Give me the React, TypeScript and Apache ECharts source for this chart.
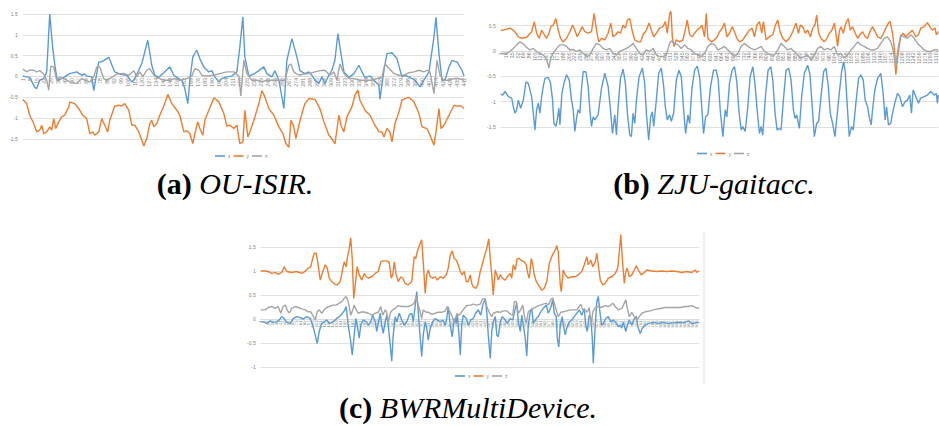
import React, { useEffect, useRef } from 'react';
import * as echarts from 'echarts';

// ---------- (a) OU-ISIR : [sample, value] ----------
const nA = 442;
const aX = [[1,0.01],[8,-0.02],[13,-0.26],[15,-0.29],[18,-0.09],[22,-0.05],[25,0.11],[28,1.5],[31,0.68],[33,0.3],[35,-0.02],[37,-0.09],[42,-0.02],[48,0.07],[55,0.11],[60,0.03],[63,0.06],[65,0.01],[70,-0.01],[72,-0.34],[77,0.35],[80,0.35],[87,0.46],[93,0.11],[98,0.06],[105,0.03],[110,-0.13],[112,-0.09],[117,0.15],[120,0.31],[126,0.87],[130,0.27],[133,0.03],[137,-0.02],[142,0.09],[148,0.23],[152,0.03],[155,-0.02],[160,-0.09],[163,-0.29],[166,-0.65],[168,-0.09],[171,0.47],[175,0.63],[178,0.43],[182,0.23],[187,0.11],[190,0.14],[193,-0.01],[197,-0.13],[200,-0.05],[205,-0.01],[210,0.01],[215,0.11],[218,0.71],[221,1.43],[223,0.47],[227,0.01],[232,0.06],[237,0.14],[242,0.23],[245,0.07],[250,-0.01],[253,0.14],[257,-0.09],[260,-0.49],[262,-0.77],[265,0.39],[270,0.91],[275,0.47],[278,0.14],[283,0.07],[287,0.11],[290,0.03],[293,-0.09],[297,-0.17],[300,-0.01],[303,-0.17],[307,0.03],[310,0.15],[313,0.39],[316,1.03],[318,0.71],[322,0.11],[327,-0.02],[332,0.07],[337,0.27],[340,0.11],[343,-0.02],[348,0.01],[352,-0.09],[357,-0.21],[358,-0.55],[362,0.15],[365,0.55],[370,0.57],[375,0.43],[380,-0.01],[383,0.03],[388,-0.02],[393,-0.09],[398,-0.25],[402,-0.09],[407,0.11],[412,0.95],[414,1.42],[417,0.55],[420,-0.09],[423,-0.09],[427,0.23],[430,0.38],[435,0.35],[440,0.15],[442,0.01]];
const aY = [[1,-0.55],[5,-0.65],[8,-0.93],[12,-1.13],[15,-1.33],[18,-1.29],[20,-1.17],[22,-1.37],[25,-1.33],[28,-1.21],[30,-1.29],[32,-1.01],[34,-1.25],[37,-1.09],[40,-0.97],[43,-0.93],[47,-0.73],[48,-0.61],[53,-0.65],[57,-0.77],[61,-0.93],[65,-1.01],[68,-1.37],[71,-1.33],[73,-1.41],[77,-1.33],[80,-1.01],[83,-1.17],[86,-1.33],[88,-1.05],[93,-0.71],[97,-0.69],[100,-0.71],[103,-0.65],[107,-0.81],[110,-1.17],[113,-1.17],[117,-1.33],[120,-1.53],[122,-1.67],[125,-1.49],[128,-1.13],[130,-1.05],[132,-1.21],[135,-1.13],[138,-0.93],[143,-0.65],[146,-0.43],[150,-0.65],[155,-0.81],[158,-0.93],[162,-1.33],[165,-1.3],[168,-1.37],[171,-1.61],[173,-1.37],[176,-1.09],[178,-1.25],[181,-1.41],[183,-1.05],[187,-0.81],[192,-0.51],[197,-0.61],[202,-0.89],[205,-1.19],[208,-1.17],[212,-1.25],[215,-1.17],[218,-1.61],[221,-1.57],[223,-0.81],[226,-1.45],[228,-1.33],[232,-1.05],[237,-0.65],[240,-0.34],[243,-0.49],[247,-0.77],[252,-0.93],[257,-1.21],[261,-1.37],[264,-1.61],[267,-1.7],[269,-1.05],[272,-1.21],[274,-1.49],[277,-1.17],[280,-0.89],[283,-0.65],[287,-0.53],[293,-0.55],[298,-0.77],[302,-1.09],[307,-1.41],[311,-1.53],[313,-1.62],[317,-0.93],[319,-1.17],[322,-1.33],[325,-0.97],[330,-0.73],[333,-0.45],[336,-0.33],[338,-0.57],[343,-0.81],[348,-0.93],[353,-1.17],[357,-1.33],[360,-1.33],[362,-1.45],[365,-1.25],[368,-1.33],[370,-1.57],[373,-1.13],[377,-0.85],[380,-0.57],[383,-0.53],[387,-0.5],[392,-0.61],[397,-0.89],[400,-1.21],[405,-1.25],[408,-1.41],[412,-1.65],[414,-1.33],[417,-0.77],[419,-1.25],[422,-1.17],[427,-0.93],[432,-0.69],[435,-0.71],[439,-0.71],[442,-0.77]];
const aZ = [[1,0.18],[5,0.11],[8,0.15],[12,0.15],[15,0.11],[18,0.14],[22,0.06],[25,-0.09],[27,-0.33],[29,0.25],[32,0.23],[35,-0.09],[38,-0.02],[42,-0.05],[45,-0.09],[48,-0.13],[55,-0.17],[60,-0.05],[63,-0.09],[68,-0.13],[72,-0.01],[75,0.23],[78,0.23],[82,-0.05],[85,-0.09],[88,-0.05],[95,0.06],[102,0.07],[107,0.03],[112,0.14],[115,-0.01],[118,0.11],[121,-0.01],[125,0.15],[128,0.19],[132,0.03],[135,-0.02],[142,-0.09],[148,-0.09],[153,-0.05],[158,-0.09],[165,-0.05],[170,0.01],[173,0.19],[177,0.15],[180,0.03],[185,0.01],[192,0.03],[198,0.07],[205,0.11],[212,0.11],[217,0.01],[219,-0.47],[222,0.39],[225,0.07],[230,-0.09],[235,-0.09],[240,-0.13],[245,-0.09],[252,-0.09],[258,-0.09],[263,-0.09],[267,0.27],[269,0.3],[272,0.11],[277,0.03],[282,0.06],[287,0.07],[293,0.11],[298,0.14],[303,0.15],[308,0.03],[312,0.11],[315,-0.09],[318,0.3],[322,0.07],[327,-0.05],[332,-0.05],[338,-0.09],[345,-0.09],[350,-0.09],[355,-0.05],[360,-0.01],[363,0.3],[367,0.19],[372,0.07],[377,0.03],[382,0.03],[387,0.09],[392,0.11],[397,0.15],[402,0.11],[405,0.15],[408,0.11],[412,-0.41],[415,0.39],[418,0.03],[422,-0.09],[427,-0.09],[432,-0.05],[437,-0.05],[442,-0.09]];

// ---------- (b) ZJU-gaitacc ----------
const nB = 1318;
const bX = [[1,-0.85],[7,-0.87],[14,-0.8],[24,-0.9],[34,-0.93],[39,-1.1],[44,-1.23],[49,-1.16],[54,-0.97],[61,-1.13],[69,-0.97],[77,-0.61],[84,-0.64],[94,-0.9],[99,-1.23],[104,-1.56],[109,-1.16],[114,-1.03],[119,-1.23],[124,-0.9],[129,-0.7],[134,-0.54],[144,-0.52],[151,-0.64],[157,-0.97],[161,-1.43],[167,-1.49],[171,-1.36],[176,-1.13],[179,-1.46],[185,-0.84],[191,-0.64],[199,-0.47],[207,-0.57],[214,-0.97],[219,-1.16],[224,-1.59],[229,-1.33],[234,-1.16],[239,-1.23],[244,-0.74],[249,-0.41],[257,-0.41],[264,-0.7],[269,-1.16],[274,-1.49],[279,-1.3],[284,-1.36],[294,-1.26],[304,-0.74],[314,-0.44],[324,-0.7],[331,-1.16],[337,-1.63],[344,-1.26],[349,-1.66],[354,-1.1],[361,-0.54],[369,-0.36],[376,-0.64],[382,-1.23],[389,-1.66],[394,-1.69],[399,-1.23],[404,-1.43],[409,-0.97],[417,-0.51],[427,-0.34],[434,-0.64],[439,-1.23],[446,-1.76],[452,-1.3],[457,-1.2],[461,-1.49],[469,-0.97],[476,-0.44],[484,-0.34],[491,-0.7],[496,-1.1],[502,-1.36],[509,-1.26],[514,-1.39],[521,-1.23],[529,-0.57],[537,-0.38],[544,-0.51],[551,-1.16],[557,-1.63],[564,-1.26],[569,-1.43],[576,-0.74],[584,-0.38],[592,-0.3],[599,-0.51],[606,-1.16],[611,-1.63],[617,-1.3],[624,-1.26],[632,-0.7],[641,-0.38],[649,-0.38],[655,-0.57],[661,-1.16],[669,-1.69],[676,-1.16],[681,-1.3],[689,-0.64],[697,-0.38],[704,-0.31],[711,-0.61],[717,-1.16],[724,-1.56],[729,-1.49],[736,-1.59],[744,-1.1],[751,-0.51],[759,-0.31],[765,-0.61],[772,-1.16],[779,-1.63],[784,-1.49],[789,-1.66],[797,-0.9],[805,-0.38],[813,-0.31],[819,-0.57],[826,-1.23],[832,-1.56],[837,-1.53],[844,-1.56],[851,-0.97],[859,-0.38],[867,-0.34],[874,-0.57],[881,-1.16],[886,-1.33],[891,-1.26],[899,-1.53],[906,-0.9],[914,-0.44],[924,-0.28],[931,-0.47],[937,-1.03],[944,-1.69],[951,-1.43],[957,-1.39],[964,-0.9],[972,-0.41],[979,-0.34],[986,-0.7],[992,-1.23],[999,-1.43],[1006,-1.69],[1012,-1.3],[1019,-0.84],[1026,-0.41],[1032,-0.21],[1037,-0.41],[1042,-0.97],[1049,-1.69],[1056,-1.49],[1061,-1.56],[1069,-1.03],[1077,-0.54],[1084,-0.47],[1091,-0.57],[1097,-0.97],[1104,-1.1],[1109,-1.3],[1115,-1.46],[1119,-1.16],[1126,-0.77],[1134,-0.54],[1144,-0.44],[1151,-0.84],[1157,-1.36],[1161,-1.1],[1167,-1.46],[1174,-1.43],[1179,-1.23],[1186,-1.03],[1194,-0.84],[1201,-0.9],[1209,-1.1],[1217,-1.0],[1224,-0.97],[1231,-0.87],[1236,-1.23],[1241,-0.77],[1249,-0.9],[1257,-1.03],[1264,-0.93],[1274,-0.9],[1284,-0.87],[1294,-0.8],[1304,-0.87],[1311,-0.84],[1314,-1.03],[1317,-0.87]];
const bY = [[1,0.41],[7,0.41],[19,0.43],[29,0.45],[39,0.41],[47,0.35],[54,0.28],[64,0.25],[79,0.27],[94,0.38],[102,0.58],[109,0.35],[117,0.25],[124,0.41],[132,0.32],[139,0.25],[146,0.35],[152,0.48],[159,0.51],[167,0.64],[174,0.41],[181,0.25],[189,0.18],[199,0.25],[209,0.38],[217,0.51],[224,0.41],[231,0.28],[239,0.38],[246,0.48],[254,0.38],[264,0.35],[274,0.38],[282,0.74],[289,0.41],[296,0.18],[304,0.25],[314,0.22],[324,0.35],[332,0.55],[339,0.28],[347,0.32],[354,0.38],[361,0.35],[369,0.51],[376,0.45],[382,0.61],[389,0.64],[397,0.38],[404,0.22],[414,0.18],[422,0.18],[429,0.32],[439,0.41],[447,0.55],[454,0.41],[461,0.28],[469,0.35],[479,0.45],[489,0.48],[496,0.58],[502,0.35],[509,0.74],[513,0.78],[517,0.28],[522,0.09],[529,0.22],[539,0.18],[549,0.22],[557,0.45],[562,0.61],[569,0.32],[577,0.28],[584,0.35],[591,0.41],[599,0.45],[606,0.51],[614,0.28],[619,0.74],[624,0.25],[634,0.18],[644,0.22],[652,0.28],[659,0.38],[667,0.45],[674,0.55],[681,0.28],[689,0.35],[697,0.48],[704,0.38],[711,0.25],[719,0.18],[729,0.22],[739,0.32],[749,0.41],[757,0.45],[764,0.28],[771,0.51],[779,0.58],[786,0.35],[791,0.58],[799,0.22],[809,0.28],[819,0.32],[827,0.51],[834,0.61],[841,0.38],[849,0.25],[859,0.18],[869,0.25],[879,0.38],[889,0.55],[896,0.35],[902,0.51],[909,0.48],[917,0.35],[924,0.41],[932,0.28],[939,0.45],[946,0.51],[951,0.71],[957,0.35],[964,0.25],[974,0.18],[982,0.25],[989,0.35],[997,0.41],[1004,0.55],[1009,0.35],[1014,0.09],[1019,0.38],[1024,0.48],[1031,0.35],[1039,0.55],[1046,0.64],[1052,0.41],[1059,0.48],[1067,0.35],[1074,0.25],[1081,0.32],[1089,0.38],[1097,0.28],[1104,0.25],[1111,0.38],[1119,0.48],[1127,0.38],[1134,0.28],[1144,0.25],[1152,0.35],[1159,0.45],[1167,0.55],[1172,0.58],[1179,0.35],[1184,0.09],[1189,-0.47],[1194,-0.14],[1199,0.09],[1204,0.28],[1211,0.35],[1219,0.28],[1229,0.35],[1239,0.41],[1249,0.28],[1257,0.32],[1264,0.45],[1274,0.48],[1284,0.56],[1291,0.48],[1299,0.41],[1307,0.45],[1311,0.32],[1317,0.38]];
const bZ = [[1,-0.05],[7,-0.05],[19,-0.05],[29,-0.01],[39,0.05],[49,0.12],[59,0.18],[69,0.14],[79,0.07],[89,0.02],[99,0.05],[109,-0.01],[119,-0.05],[129,-0.08],[139,-0.16],[146,-0.34],[151,-0.14],[159,-0.05],[169,0.05],[179,0.12],[189,0.12],[199,0.09],[209,0.02],[219,0.03],[229,-0.01],[239,0.02],[249,-0.05],[259,-0.11],[269,-0.08],[279,0.05],[289,0.15],[299,0.12],[309,0.05],[319,0.02],[329,0.05],[339,-0.05],[349,-0.08],[359,-0.01],[369,0.02],[379,0.05],[389,0.09],[399,0.15],[409,0.05],[419,-0.05],[429,-0.08],[439,0.02],[449,-0.01],[459,0.05],[469,-0.08],[479,-0.11],[489,-0.11],[499,-0.08],[509,0.15],[514,0.2],[524,0.15],[534,0.12],[544,0.05],[554,0.12],[564,0.05],[574,0.02],[584,-0.05],[594,-0.08],[604,-0.11],[614,-0.05],[624,0.09],[634,0.15],[644,0.12],[654,0.02],[664,0.05],[674,0.09],[684,0.02],[694,-0.05],[704,-0.11],[714,-0.05],[724,0.09],[734,0.15],[744,0.09],[754,0.05],[764,0.02],[774,0.05],[784,0.09],[794,-0.01],[804,-0.05],[814,-0.08],[824,-0.08],[834,0.02],[844,0.15],[854,0.09],[864,0.02],[874,0.05],[884,-0.01],[894,-0.08],[904,-0.14],[914,-0.11],[924,-0.08],[934,-0.18],[944,-0.08],[954,0.05],[964,0.09],[974,0.02],[984,0.05],[994,0.02],[1004,0.09],[1014,-0.08],[1024,-0.05],[1034,-0.14],[1044,-0.08],[1054,0.02],[1064,0.09],[1074,0.18],[1084,0.12],[1094,0.09],[1104,0.05],[1114,0.02],[1124,0.02],[1134,0.05],[1144,0.15],[1154,0.25],[1164,0.28],[1174,0.18],[1181,0.02],[1189,-0.31],[1197,0.09],[1204,0.32],[1214,0.28],[1224,0.25],[1234,0.32],[1244,0.25],[1254,0.15],[1264,0.09],[1274,0.02],[1284,-0.01],[1294,-0.01],[1304,0.02],[1311,0.03],[1317,-0.01]];

// ---------- (c) BWRMultiDevice ----------
const nC = 878;
const cX = [[1,-0.06],[6,-0.06],[13,-0.09],[20,-0.04],[26,-0.07],[33,-0.06],[38,-0.02],[43,0.05],[48,0.01],[53,-0.07],[60,-0.09],[66,0.01],[73,0.05],[80,0.03],[86,0.0],[93,0.05],[100,0.01],[105,-0.13],[110,-0.33],[114,-0.51],[118,-0.26],[123,-0.09],[128,-0.06],[133,-0.02],[138,-0.09],[143,-0.07],[148,-0.04],[153,0.01],[158,0.05],[163,0.1],[168,0.17],[172,0.26],[176,-0.13],[181,-0.47],[184,-0.75],[188,-0.33],[191,0.01],[194,-0.13],[198,-0.4],[201,-0.13],[206,-0.02],[212,-0.06],[216,-0.13],[221,-0.06],[225,0.08],[230,-0.06],[233,-0.26],[236,-0.09],[240,0.12],[243,-0.13],[246,-0.3],[250,-0.06],[253,0.08],[256,-0.13],[260,-0.54],[263,-0.88],[266,-0.33],[270,0.05],[273,-0.06],[278,0.12],[283,-0.02],[288,-0.13],[293,-0.06],[298,0.08],[303,0.12],[306,-0.06],[310,0.29],[313,0.57],[316,0.15],[320,-0.4],[323,-0.78],[326,-0.33],[330,-0.06],[333,-0.19],[336,-0.44],[340,-0.19],[345,-0.06],[350,0.01],[354,-0.02],[360,-0.06],[365,-0.02],[370,-0.13],[373,0.01],[376,0.26],[380,-0.13],[384,-0.37],[388,0.01],[392,-0.09],[394,0.12],[397,-0.26],[400,-0.75],[403,-0.13],[406,0.08],[412,0.01],[416,-0.13],[421,-0.02],[426,0.01],[431,0.12],[436,0.19],[441,0.08],[445,0.29],[450,0.42],[453,0.15],[456,-0.33],[460,-0.82],[463,-0.26],[466,-0.06],[470,0.05],[473,-0.33],[476,-0.37],[480,-0.06],[484,0.05],[490,-0.02],[494,-0.09],[500,0.01],[505,-0.02],[510,0.22],[513,0.33],[516,-0.06],[520,-0.26],[523,0.08],[526,-0.13],[530,-0.4],[533,-0.77],[536,-0.13],[540,0.15],[543,0.22],[546,-0.09],[552,0.01],[556,0.05],[561,0.15],[566,0.22],[572,0.29],[576,0.12],[581,0.24],[585,0.4],[588,0.12],[592,0.05],[594,-0.4],[597,-0.58],[600,-0.13],[604,0.05],[606,-0.13],[610,-0.33],[613,-0.19],[618,-0.06],[623,-0.02],[628,0.05],[633,0.12],[638,0.19],[643,0.08],[648,0.22],[651,-0.13],[654,-0.26],[658,0.08],[661,0.01],[664,-0.4],[666,-0.92],[670,-0.13],[673,0.36],[676,0.47],[680,0.08],[683,-0.13],[686,-0.09],[691,0.01],[696,0.05],[701,-0.06],[706,-0.02],[712,-0.09],[716,-0.16],[720,-0.13],[723,-0.19],[726,-0.06],[731,-0.26],[734,-0.13],[738,-0.02],[743,-0.13],[748,0.01],[752,0.05],[755,-0.16],[760,-0.3],[764,-0.19],[770,-0.13],[776,-0.09],[786,-0.07],[796,-0.09],[806,-0.07],[816,-0.09],[826,-0.08],[836,-0.07],[846,-0.08],[856,-0.04],[863,-0.09],[870,-0.08],[878,-0.07]];
const cY = [[1,1.0],[10,1.0],[16,0.99],[23,0.95],[30,0.97],[36,0.93],[43,0.97],[48,1.09],[53,0.99],[63,0.97],[73,0.99],[83,0.95],[90,0.99],[96,1.06],[101,1.09],[105,1.26],[108,1.37],[112,1.37],[115,1.19],[120,0.81],[124,0.95],[130,1.13],[134,1.06],[138,0.85],[143,0.78],[150,0.72],[154,0.71],[160,0.78],[164,0.99],[168,1.19],[172,1.09],[174,1.26],[178,1.47],[181,1.69],[184,1.26],[187,0.43],[190,0.71],[194,1.09],[198,0.92],[203,0.81],[208,0.95],[212,0.88],[216,0.85],[223,0.88],[230,0.95],[236,0.99],[241,1.19],[245,1.21],[253,1.21],[258,1.18],[262,0.85],[265,0.92],[268,1.19],[272,0.92],[276,0.78],[281,0.88],[285,0.85],[290,0.74],[296,0.71],[303,0.78],[308,1.3],[311,1.26],[314,1.4],[320,1.58],[323,1.65],[326,1.19],[330,0.53],[333,0.92],[336,1.02],[340,0.88],[345,0.85],[350,0.88],[354,0.81],[360,0.88],[366,0.85],[372,0.92],[376,1.06],[380,1.33],[384,1.42],[388,1.26],[392,1.23],[396,1.13],[400,0.99],[404,0.92],[408,0.99],[412,0.78],[416,0.78],[420,0.92],[423,0.74],[426,0.67],[431,0.64],[435,0.71],[440,0.99],[444,1.13],[448,1.3],[453,1.47],[457,1.67],[460,1.26],[463,0.92],[466,0.5],[470,1.02],[473,0.92],[476,0.81],[480,0.92],[484,0.85],[490,0.81],[494,0.88],[500,0.95],[503,0.85],[506,1.13],[510,1.02],[514,1.26],[518,1.26],[523,1.21],[528,1.19],[532,1.13],[535,0.95],[538,0.85],[542,1.26],[545,1.13],[548,0.92],[552,0.78],[556,0.71],[563,0.6],[568,0.64],[573,0.78],[578,1.16],[583,1.3],[586,1.37],[590,1.44],[593,1.53],[596,1.4],[600,0.71],[602,0.57],[606,1.02],[610,0.92],[616,0.85],[623,0.88],[630,0.88],[636,0.92],[643,0.99],[648,1.13],[653,1.3],[656,1.13],[661,1.23],[665,1.09],[670,1.19],[673,1.37],[676,1.13],[680,0.81],[685,0.71],[690,0.74],[696,0.85],[703,0.88],[710,0.95],[715,1.06],[718,1.4],[721,1.76],[724,1.26],[728,0.74],[731,0.99],[734,1.06],[738,0.88],[743,0.92],[748,1.02],[752,1.11],[756,1.02],[762,0.92],[766,0.95],[773,1.02],[783,1.0],[793,0.99],[803,1.0],[813,0.99],[823,1.0],[833,0.99],[843,0.97],[853,0.99],[863,0.97],[870,1.02],[873,0.97],[878,1.0]];
const cZ = [[1,0.19],[10,0.19],[16,0.24],[23,0.26],[30,0.22],[36,0.26],[41,0.12],[46,0.26],[50,0.29],[54,0.19],[58,0.12],[63,0.22],[70,0.26],[76,0.24],[83,0.21],[90,0.19],[96,0.15],[101,0.15],[105,0.08],[110,-0.02],[114,0.15],[118,0.19],[123,0.12],[128,0.19],[133,0.24],[138,0.26],[145,0.29],[152,0.29],[158,0.33],[163,0.36],[168,0.43],[172,0.47],[176,0.36],[181,0.08],[185,0.19],[188,0.29],[192,0.19],[196,0.12],[203,0.15],[210,0.14],[216,0.12],[223,0.08],[230,0.12],[236,0.14],[241,0.26],[245,0.08],[250,0.19],[253,0.14],[256,-0.06],[261,0.15],[265,0.19],[270,0.22],[276,0.28],[283,0.26],[290,0.26],[296,0.26],[303,0.29],[308,0.33],[312,0.47],[315,0.33],[320,0.15],[323,0.01],[326,0.19],[332,0.14],[336,0.14],[343,0.1],[350,0.12],[356,0.14],[363,0.14],[370,0.17],[374,0.26],[380,0.14],[384,0.05],[388,-0.09],[393,0.1],[398,0.08],[403,0.15],[408,0.22],[413,0.28],[420,0.29],[426,0.31],[433,0.29],[440,0.31],[445,0.42],[450,0.42],[453,0.26],[458,0.14],[463,0.05],[466,0.12],[473,0.15],[480,0.14],[486,0.17],[493,0.17],[500,0.1],[505,0.08],[508,0.36],[512,0.36],[516,0.12],[521,0.19],[525,0.29],[528,0.08],[532,-0.09],[536,0.15],[541,0.19],[546,0.22],[553,0.26],[560,0.29],[566,0.31],[572,0.33],[576,0.29],[581,0.4],[585,0.44],[589,0.29],[593,0.15],[596,0.05],[601,0.14],[606,0.15],[613,0.17],[620,0.19],[626,0.19],[633,0.19],[638,0.26],[641,0.31],[645,0.19],[650,0.19],[654,0.14],[658,0.24],[662,-0.13],[665,0.15],[670,0.24],[676,0.26],[683,0.24],[690,0.28],[696,0.26],[701,0.29],[705,0.33],[710,0.26],[716,0.19],[723,0.22],[728,0.33],[731,0.4],[734,0.22],[738,0.05],[743,0.14],[748,0.05],[753,-0.02],[758,0.05],[763,0.12],[770,0.15],[780,0.17],[790,0.2],[800,0.22],[810,0.24],[820,0.24],[830,0.24],[840,0.24],[850,0.26],[856,0.26],[863,0.28],[870,0.24],[878,0.22]];

const seriesNames = ['x', 'y', 'z'];
const seriesColors = ['#5B9BD5', '#ED7D31', '#A5A5A5'];

const range = (n: number) => Array.from({ length: n }, (_, i) => String(i + 1));
const toData = (pts: number[][]) => pts.map(([s, v]) => [s - 1, v]);

const GRID = '#d9d9d9';
const LABEL = '#7f7f7f';

// panel geometry: left, top, width, height, y min, y max
const panels = [
  { left: 22.7, top: 14, width: 441.3, height: 145.8, min: -2, max: 1.5, hide: [-2], n: nA, every: 7, lf: 5.2 },
  { left: 500.7, top: 0.3, width: 438, height: 152, min: -2, max: 1, hide: [-2, 1], n: nB, every: 17, lf: 5.2 },
  { left: 260.7, top: 223, width: 438.6, height: 144, min: -1, max: 2, hide: [2], n: nC, every: 8, lf: 4.2 },
];

const isHidden = (hide: number[], v: number) => hide.some((h) => Math.abs(h - v) < 1e-9);

function makeY(idx: number, p: any) {
  const ticks: number[] = [];
  for (let v = p.min; v <= p.max + 1e-9; v += 0.5) ticks.push(v);
  return {
    type: 'value', gridIndex: idx, min: p.min, max: p.max, interval: 0.5,
    axisLine: { show: false }, axisTick: { show: false },
    axisLabel: {
      fontSize: 5, color: LABEL, margin: 5, fontFamily: 'Liberation Sans',
      formatter: (v: number) => (isHidden(p.hide, v) ? '' : String(v)),
    },
    splitLine: {
      lineStyle: {
        width: 0.8,
        color: ticks.map((t) => (isHidden(p.hide, t) ? 'rgba(0,0,0,0)' : GRID)),
      },
    },
  };
}

// main x axis (no labels) for the data
function makeX(idx: number, p: any) {
  return {
    type: 'category', gridIndex: idx, data: range(p.n), boundaryGap: false,
    axisLine: { show: false }, axisTick: { show: false }, axisLabel: { show: false },
    splitLine: { show: false },
  };
}

// label x axis drawn at the bottom of a grid whose bottom is the zero line
function makeLabelX(idx: number, p: any) {
  return {
    type: 'category', gridIndex: idx, data: range(p.n), boundaryGap: false, position: 'bottom',
    axisLine: { show: true, onZero: false, lineStyle: { color: GRID, width: 0.8 } },
    axisTick: { show: false },
    axisLabel: { rotate: 90, fontSize: p.lf, color: LABEL, margin: 1.5, interval: p.every - 1, fontFamily: 'Liberation Sans' },
    splitLine: { show: false },
  };
}

function makeLegend(left: number, top: number) {
  return {
    left, top, padding: 0, itemGap: 3, itemWidth: 10, itemHeight: 1.6, icon: 'rect',
    selectedMode: false, data: seriesNames,
    textStyle: { fontSize: 5, color: LABEL, padding: [0, 0, 0, -2], fontFamily: 'Liberation Sans' },
  };
}

function makeSeries(grid: number, sets: number[][][]) {
  return sets.map((pts, k) => ({
    name: seriesNames[k], type: 'line', xAxisIndex: grid, yAxisIndex: grid,
    data: toData(pts), showSymbol: false, symbol: 'none', smooth: false,
    lineStyle: { width: 1.4, color: seriesColors[k] }, itemStyle: { color: seriesColors[k] },
    z: 2 + k,
  }));
}

const capFont = '"Liberation Serif", "Times New Roman", serif';
function caption(x: number, y: number, tag: string, name: string) {
  return {
    type: 'text', x, y,
    style: {
      text: `{b|${tag}} {i|${name}}`,
      fontFamily: capFont, fontSize: 30,
      align: 'center', verticalAlign: 'middle',
      rich: {
        b: { fontFamily: capFont, fontSize: 30, fontWeight: 'bold', fill: '#000' },
        i: { fontFamily: capFont, fontSize: 30, fontStyle: 'italic', fill: '#000' },
      },
    },
  };
}

export default function App() {
  const ref = useRef<HTMLDivElement>(null);
  useEffect(() => {
    if (!ref.current) return;
    const chart = echarts.init(ref.current, undefined, { renderer: 'svg' });
    const mainGrids = panels.map((p) => ({
      left: p.left, top: p.top, width: p.width, height: p.height, outerBoundsMode: 'none', containLabel: false,
    }));
    const labelGrids = panels.map((p) => ({
      left: p.left, top: p.top, width: p.width,
      height: (p.height * p.max) / (p.max - p.min),
      outerBoundsMode: 'none', containLabel: false,
    }));
    chart.setOption({
      animation: false,
      backgroundColor: '#fff',
      grid: [...mainGrids, ...labelGrids],
      xAxis: [
        ...panels.map((p, i) => makeX(i, p)),
        ...panels.map((p, i) => makeLabelX(i + 3, p)),
      ],
      yAxis: [
        ...panels.map((p, i) => makeY(i, p)),
        ...panels.map((p, i) => ({ type: 'value', gridIndex: i + 3, min: 0, max: 1, show: false })),
      ],
      legend: [makeLegend(215, 153.5), makeLegend(697, 151), makeLegend(455, 373.5)],
      series: [
        ...makeSeries(0, [aX, aY, aZ]),
        ...makeSeries(1, [bX, bY, bZ]),
        ...makeSeries(2, [cX, cY, cZ]),
      ],
      graphic: [
        { type: 'line', shape: { x1: 704, y1: 232, x2: 704, y2: 385 }, style: { stroke: GRID, lineWidth: 0.8 } },
        caption(235, 183, '(a)', 'OU-ISIR.'),
        caption(714, 183, '(b)', 'ZJU-gaitacc.'),
        caption(468, 407, '(c)', 'BWRMultiDevice.'),
      ],
    });
    return () => chart.dispose();
  }, []);
  return (
    <div
      ref={ref}
      style={{ position: 'fixed', left: 0, top: 0, width: 939, height: 426, background: '#fff' }}
    />
  );
}
